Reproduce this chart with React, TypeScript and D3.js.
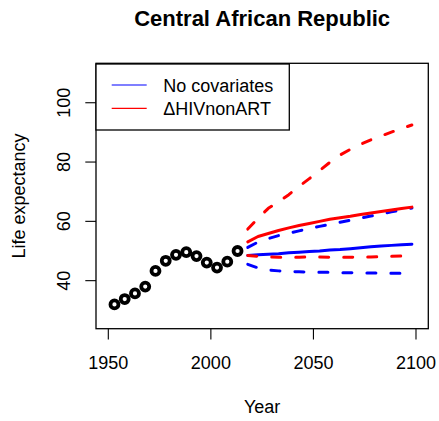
import React from "react";
import * as d3 from "d3";

const histYears = [1953, 1958, 1963, 1968, 1973, 1978, 1983, 1988, 1993, 1998, 2003, 2008, 2013];
const histValues = [32.0, 33.8, 35.7, 38.0, 43.3, 46.7, 48.7, 49.6, 48.3, 46.1, 44.4, 46.4, 50.0];

const projYears = [2018, 2023, 2028, 2033, 2038, 2043, 2048, 2053, 2058, 2063, 2068, 2073, 2078, 2083, 2088, 2093, 2098];

const noCovMedian = [48.5, 48.7, 48.9, 49.1, 49.4, 49.6, 49.8, 50.0, 50.3, 50.5, 50.8, 51.1, 51.4, 51.7, 51.9, 52.1, 52.3];
const noCovLower = [45.5, 44.3, 43.6, 43.3, 43.1, 43.0, 42.9, 42.8, 42.8, 42.7, 42.7, 42.6, 42.6, 42.6, 42.5, 42.5, 42.4];
const noCovUpper = [51.2, 53.0, 54.2, 55.2, 56.0, 56.8, 57.6, 58.3, 59.0, 59.7, 60.4, 61.1, 61.8, 62.5, 63.2, 63.9, 64.5];

const hivMedian = [53.1, 54.9, 55.9, 56.9, 57.8, 58.6, 59.3, 60.0, 60.7, 61.2, 61.7, 62.3, 62.8, 63.3, 63.8, 64.3, 64.8];
const hivLower = [48.5, 48.2, 48.0, 47.9, 47.9, 47.9, 48.0, 48.0, 47.9, 47.9, 47.9, 48.0, 48.0, 48.1, 48.2, 48.3, 48.4];
const hivUpper = [57.4, 61.0, 64.4, 66.6, 69.0, 71.8, 74.4, 77.1, 79.9, 82.4, 84.3, 86.0, 87.5, 88.8, 90.1, 91.3, 92.5];

const xTicks = [1950, 2000, 2050, 2100];
const yTicks = [40, 60, 80, 100];
const legendLabels = ["No covariates", "\u0394HIVnonART"];
const legendColors = ["#0000FF", "#FF0000"];

const W = 439;
const H = 421;
const L = 96, R = 428.3, T = 63.3, B = 328.7;
const FONT = "'Liberation Sans', Arial, Helvetica, sans-serif";

export default function App() {
  const x = d3.scaleLinear().domain([1944, 2106]).range([L, R]);
  const y = d3.scaleLinear().domain([23.8, 113.3]).range([B, T]);

  const mk = (vals: number[]) =>
    d3
      .line<number>()
      .x((_, i) => x(projYears[i]))
      .y((d) => y(d))(vals) as string;

  const series = [
    { vals: noCovLower, color: legendColors[0], dashed: true },
    { vals: noCovUpper, color: legendColors[0], dashed: true },
    { vals: noCovMedian, color: legendColors[0], dashed: false },
    { vals: hivLower, color: legendColors[1], dashed: true },
    { vals: hivUpper, color: legendColors[1], dashed: true },
    { vals: hivMedian, color: legendColors[1], dashed: false },
  ];

  return (
    <svg
      width={W}
      height={H}
      style={{ position: "absolute", left: 0, top: 0, background: "#fff" }}
      fontFamily={FONT}
    >
      <rect x={0} y={0} width={W} height={H} fill="#fff" />
      <text x={(L + R) / 2} y={26} textAnchor="middle" fontSize={22} fontWeight="bold" fill="#000">
        Central African Republic
      </text>

      {series.map((s, i) => (
        <path
          key={i}
          d={mk(s.vals)}
          fill="none"
          stroke={s.color}
          strokeWidth={3}
          strokeLinecap="round"
          strokeLinejoin="round"
          strokeDasharray={s.dashed ? "9 15" : undefined}
        />
      ))}

      {histYears.map((yr, i) => (
        <circle key={yr} cx={x(yr)} cy={y(histValues[i])} r={4} fill="none" stroke="#000" strokeWidth={3.8} />
      ))}

      <rect x={L} y={T} width={R - L} height={B - T} fill="none" stroke="#000" strokeWidth={1.3} />

      {xTicks.map((t) => (
        <g key={t}>
          <line x1={x(t)} x2={x(t)} y1={B} y2={B + 10.7} stroke="#000" strokeWidth={1.1} />
          <text x={x(t)} y={369} textAnchor="middle" fontSize={18} fill="#000">
            {t}
          </text>
        </g>
      ))}
      {yTicks.map((t) => (
        <g key={t}>
          <line x1={L - 10.7} x2={L} y1={y(t)} y2={y(t)} stroke="#000" strokeWidth={1.1} />
          <text
            transform={`translate(70,${y(t)}) rotate(-90)`}
            textAnchor="middle"
            fontSize={18}
            fill="#000"
          >
            {t}
          </text>
        </g>
      ))}

      <text x={(L + R) / 2} y={413} textAnchor="middle" fontSize={18} fill="#000">
        Year
      </text>
      <text transform={`translate(25,${(T + B) / 2}) rotate(-90)`} textAnchor="middle" fontSize={18} fill="#000">
        Life expectancy
      </text>

      <rect x={L} y={T + 0.7} width={289.3 - L} height={130 - T - 0.7} fill="#fff" stroke="#000" strokeWidth={1.3} />
      {legendLabels.map((lab, i) => {
        const ly = 85 + i * 23.3;
        return (
          <g key={lab}>
            <line x1={111.7} x2={146.7} y1={ly} y2={ly} stroke={legendColors[i]} strokeWidth={1.2} />
            <text x={163.3} y={ly + 7} fontSize={18} fill="#000">
              {lab}
            </text>
          </g>
        );
      })}
    </svg>
  );
}
